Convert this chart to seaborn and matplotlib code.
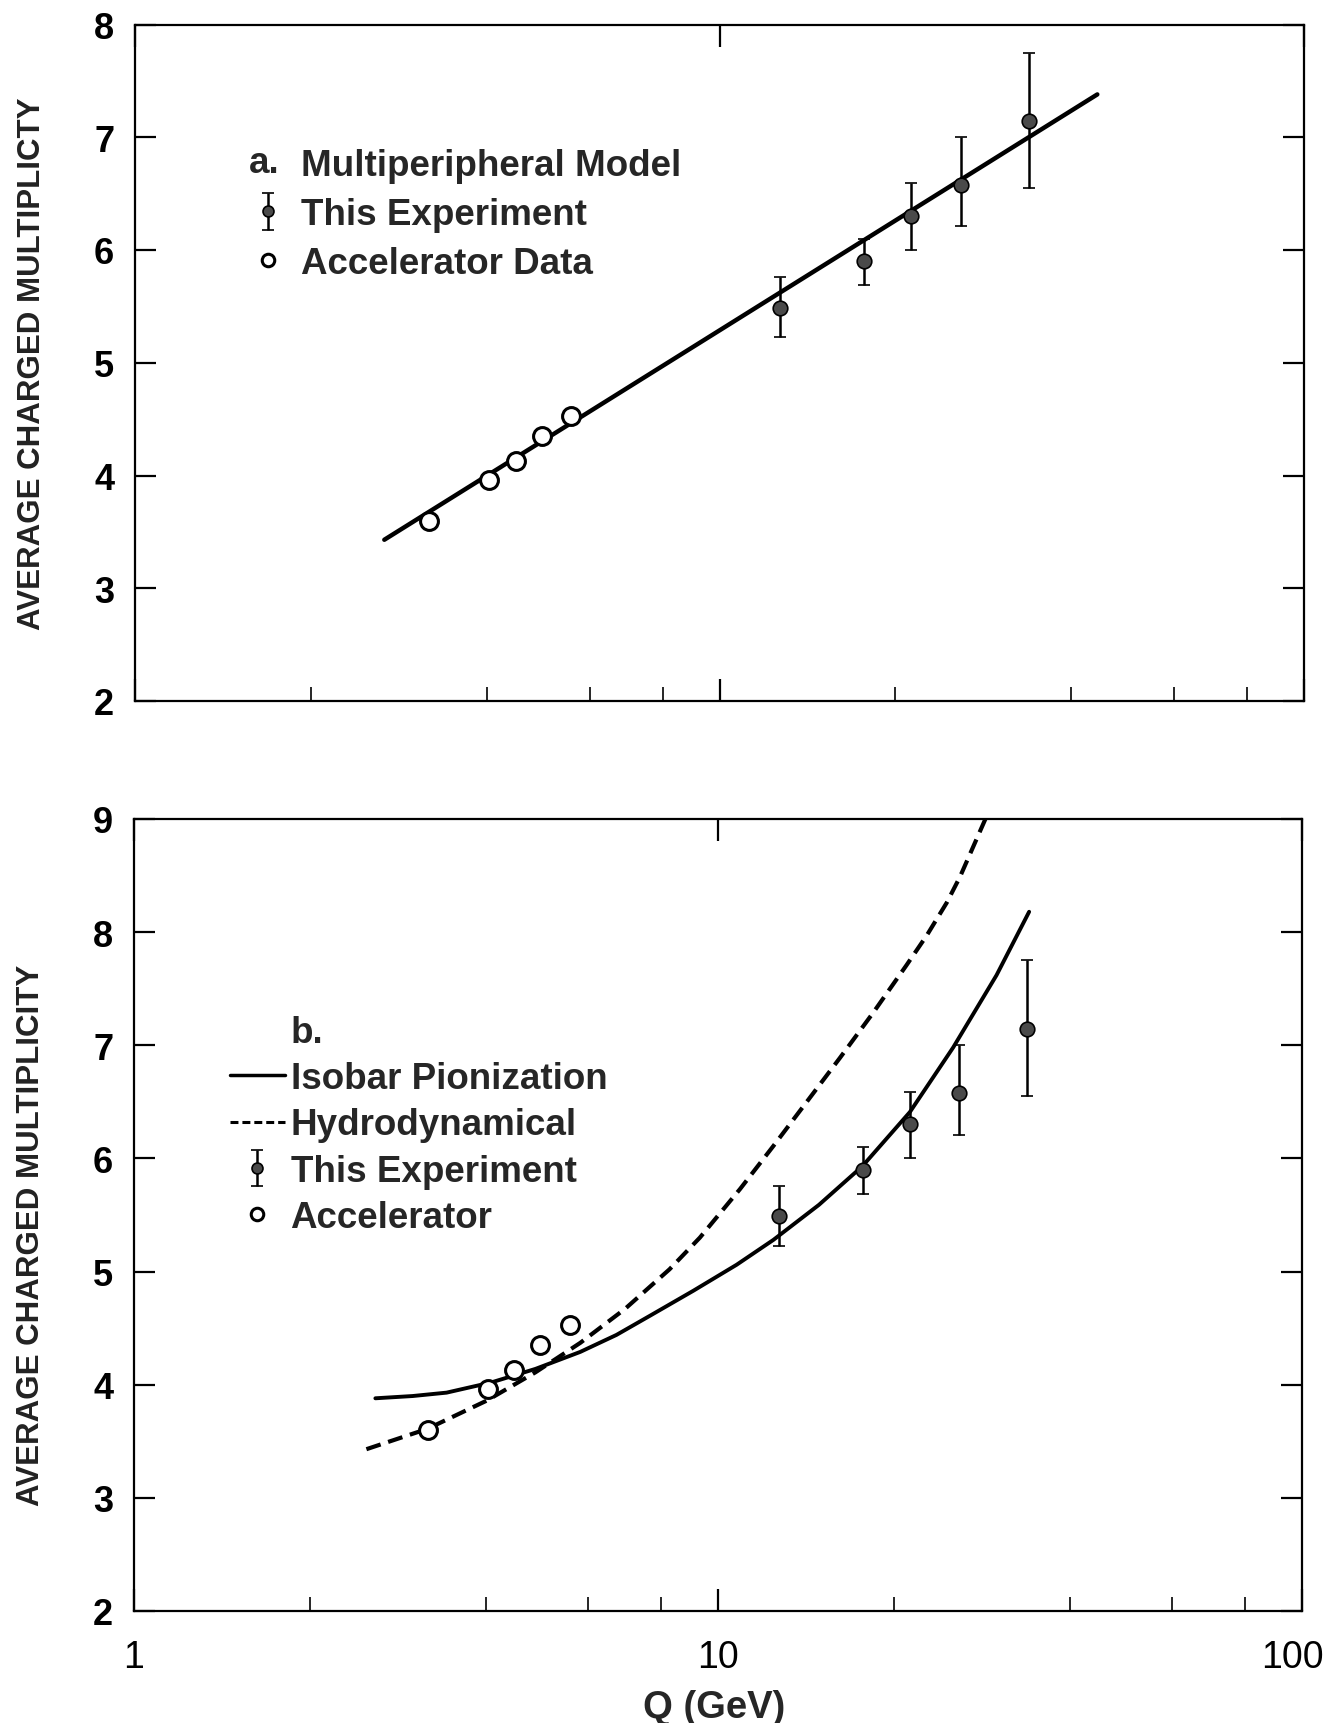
import numpy as np
import pandas as pd
import matplotlib
matplotlib.use("Agg")
import matplotlib.pyplot as plt
import matplotlib.transforms as mtransforms
import seaborn as sns
from matplotlib.ticker import FixedLocator, FixedFormatter, NullFormatter
from matplotlib.legend_handler import HandlerBase
from matplotlib.text import Text
from matplotlib.lines import Line2D

# ---------------- data ----------------
q_accel = [3.19, 4.04, 4.48, 4.96, 5.57]
n_accel = [3.60, 3.96, 4.13, 4.35, 4.53]

q_exp = [12.7, 17.7, 21.3, 25.9, 33.8]
n_exp = [5.49, 5.90, 6.30, 6.58, 7.14]
n_exp_hi = [5.76, 6.10, 6.59, 7.00, 7.75]
n_exp_lo = [5.23, 5.69, 6.00, 6.21, 6.55]

q_multi = [2.67, 44.3]
n_multi = [3.43, 7.38]

q_isobar = [2.59, 3.0, 3.43, 4.09, 4.87, 5.81, 6.7, 7.65, 9.07, 10.76,
            12.44, 14.89, 17.66, 21.31, 25.27, 29.99, 34.1]
n_isobar = [3.88, 3.90, 3.93, 4.02, 4.14, 4.29, 4.44, 4.61, 4.83, 5.06,
            5.28, 5.59, 5.93, 6.41, 6.98, 7.62, 8.18]

q_hydro = [2.50, 3.18, 4.02, 4.87, 5.81, 6.93, 8.26, 9.31, 10.91, 12.44,
           14.19, 16.18, 18.45, 21.04, 22.77, 24.64, 25.97, 28.7]
n_hydro = [3.43, 3.61, 3.86, 4.11, 4.37, 4.67, 5.02, 5.30, 5.73, 6.11,
           6.50, 6.89, 7.29, 7.71, 7.97, 8.26, 8.49, 9.00]

x_major = [1, 10, 100]
x_major_labels = ["1", "10", "100"]
x_minor = [2, 4, 6, 8, 20, 40, 60, 80]
ylabel_a = "AVERAGE CHARGED MULTIPLICTY"
ylabel_b = "AVERAGE CHARGED MULTIPLICITY"
xlabel = "Q (GeV)"

# ---------------- style ----------------
sns.set_theme(style="ticks")
plt.rcParams["font.family"] = ["Liberation Sans", "DejaVu Sans"]
plt.rcParams["axes.linewidth"] = 1.6

W, H = 1329, 1724
fig = plt.figure(figsize=(W / 100, H / 100), dpi=100)
fig.patch.set_facecolor("white")

ax1 = fig.add_axes([135 / W, 1 - 702 / H, 1169 / W, 676.5 / H])
ax2 = fig.add_axes([134 / W, 1 - 1612 / H, 1168 / W, 792 / H])

LEG_FS = 26.5


class TextHandle:
    def __init__(self, s):
        self.s = s


class HandlerTextHandle(HandlerBase):
    def create_artists(self, legend, orig_handle, xdescent, ydescent,
                       width, height, fontsize, trans):
        t = Text(-xdescent, -ydescent + height / 2, orig_handle.s,
                 ha="left", va="center", fontsize=fontsize,
                 fontweight="bold", transform=trans)
        return [t]


def style_axes(ax, ymax):
    ax.set_xscale("log")
    ax.set_xlim(1, 100)
    ax.set_ylim(2, ymax)
    ax.set_facecolor("white")
    for s in ax.spines.values():
        s.set_visible(True)
        s.set_color("black")
        s.set_linewidth(1.6)
    ax.xaxis.set_major_locator(FixedLocator(x_major))
    ax.xaxis.set_major_formatter(FixedFormatter(x_major_labels))
    ax.xaxis.set_minor_locator(FixedLocator(x_minor))
    ax.xaxis.set_minor_formatter(NullFormatter())
    ax.yaxis.set_major_locator(FixedLocator(list(range(2, ymax + 1))))
    ax.tick_params(axis="y", which="major", direction="in", length=15,
                   width=1.6, left=True, right=True, labelsize=26, pad=15,
                   colors="black")
    ax.tick_params(axis="x", which="major", direction="in", length=16,
                   width=1.6, top=True, bottom=True, labelsize=27, pad=20,
                   colors="black")
    ax.tick_params(axis="x", which="minor", direction="in", length=10,
                   width=1.4, top=False, bottom=True)
    for lab in ax.get_yticklabels():
        lab.set_fontweight("bold")


def draw_points(ax):
    cont = ax.errorbar(q_exp, n_exp,
                       yerr=[np.array(n_exp) - np.array(n_exp_lo),
                             np.array(n_exp_hi) - np.array(n_exp)],
                       fmt="o", ms=10.5, mfc="#4a4a4a", mec="black", mew=1.2,
                       ecolor="black", elinewidth=1.8, capsize=4.5,
                       capthick=2.2, zorder=6)
    sns.scatterplot(x=q_accel, y=n_accel, ax=ax, marker="o", s=165,
                    facecolor="white", edgecolor="black", linewidth=2.2,
                    zorder=7)
    return cont


# ---------------- panel a ----------------
style_axes(ax1, 8)
sns.lineplot(x=q_multi, y=n_multi, ax=ax1, color="black", lw=3.2,
             estimator=None, zorder=4)
cont1 = draw_points(ax1)
ax1.tick_params(axis="x", labelbottom=False)
ax1.set_xlabel("")
ax1.set_ylabel(ylabel_a, fontsize=22.5, fontweight="bold", color="#222222")
ax1.yaxis.set_label_coords(-0.075, 0.5)

circ_h = Line2D([], [], ls="none", marker="o", mfc="white", mec="black",
                ms=12, mew=2.2)
leg1 = ax1.legend([TextHandle("a."), cont1, circ_h],
                  ["Multiperipheral Model", "This Experiment", "Accelerator Data"],
                  handler_map={TextHandle: HandlerTextHandle()},
                  loc="upper left", bbox_to_anchor=(0.0977, 0.817),
                  frameon=False, borderpad=0, borderaxespad=0,
                  handlelength=1.0, handletextpad=0.4, labelspacing=0.375,
                  markerscale=0.75,
                  prop={"size": LEG_FS, "weight": "bold"})

# ---------------- panel b ----------------
style_axes(ax2, 9)
sns.lineplot(x=q_isobar, y=n_isobar, ax=ax2, color="black", lw=2.8,
             estimator=None, zorder=4)
sns.lineplot(x=q_hydro, y=n_hydro, ax=ax2, color="black", lw=3.0,
             estimator=None, zorder=4, linestyle=(0, (3.6, 1.9)))
cont2 = draw_points(ax2)
ax2.set_ylabel(ylabel_b, fontsize=22.5, fontweight="bold", color="#222222")
ax2.yaxis.set_label_coords(-0.075, 0.475)
ax2.set_xlabel(xlabel, fontsize=27.5, fontweight="bold")
ax2.xaxis.set_label_coords(0.497, -0.098)

solid_h = Line2D([], [], color="black", lw=2.5)
dash_h = Line2D([], [], color="black", lw=2.2, linestyle=(0, (2.6, 1.3)))
blank_h = Line2D([], [], color="none", lw=0)
leg2 = ax2.legend([blank_h, solid_h, dash_h, cont2, circ_h],
                  ["b.", "Isobar Pionization", "Hydrodynamical",
                   "This Experiment", "Accelerator"],
                  loc="upper left", bbox_to_anchor=(0.082, 0.753),
                  frameon=False, borderpad=0, borderaxespad=0,
                  handlelength=1.5, handletextpad=0.15, labelspacing=0.31,
                  markerscale=0.75,
                  prop={"size": LEG_FS, "weight": "bold"})

# keep the "100" label inside the figure, as in the reference
fig.canvas.draw()
last = ax2.get_xticklabels()[-1]
last.set_horizontalalignment("center")
last.set_transform(last.get_transform() +
                   mtransforms.ScaledTranslation(-0.10, 0, fig.dpi_scale_trans))

fig.savefig("out.png", dpi=100, facecolor="white")
